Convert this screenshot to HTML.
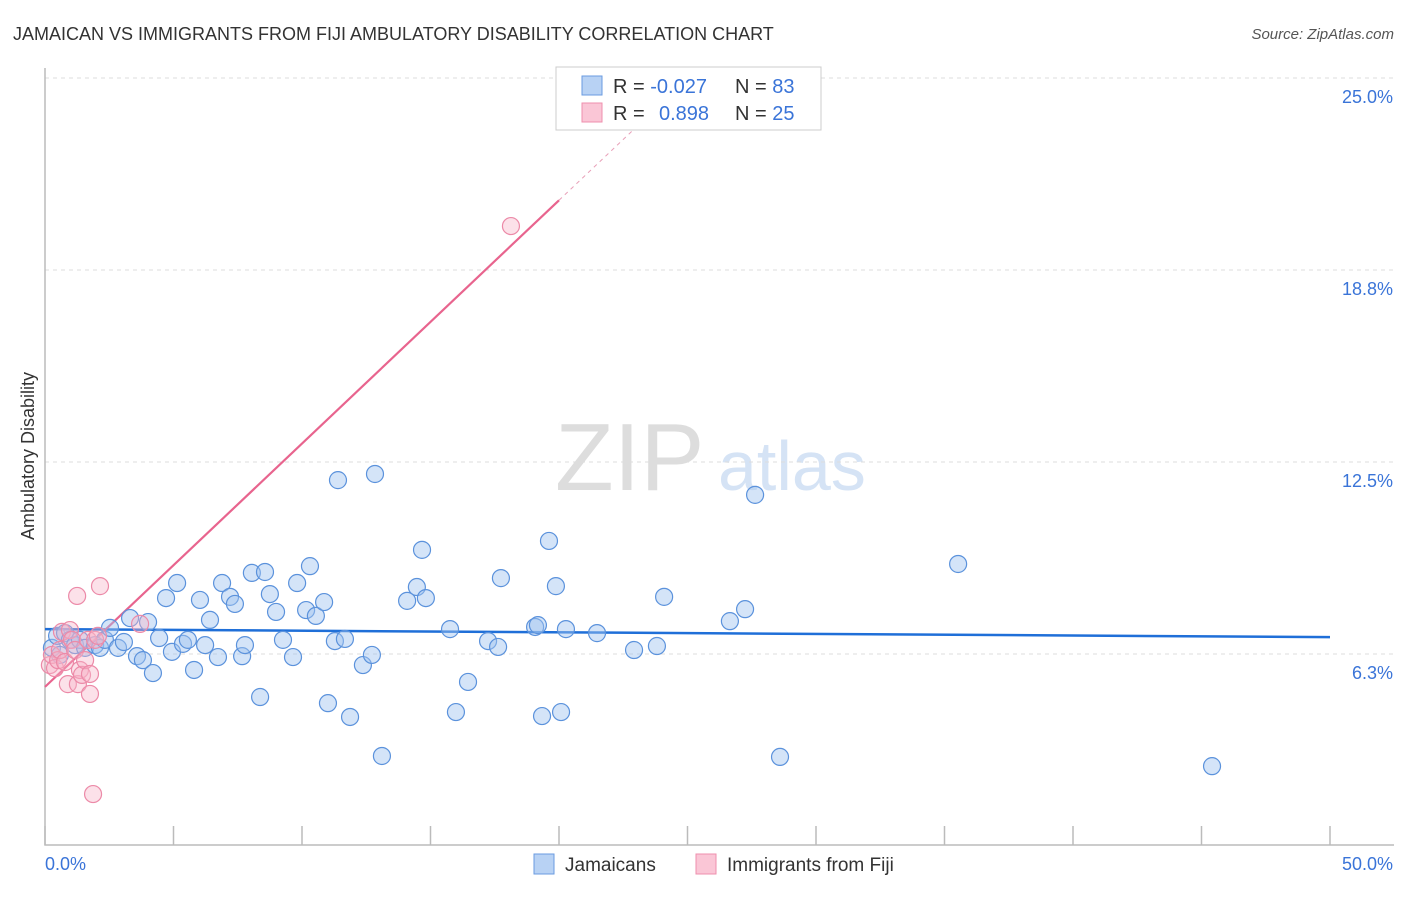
<!DOCTYPE html>
<html><head><meta charset="utf-8"><style>
body{margin:0;background:#fff;font-family:"Liberation Sans",sans-serif}
svg text{font-family:"Liberation Sans",sans-serif}
</style></head><body>
<svg id="chart" width="1406" height="892" xmlns="http://www.w3.org/2000/svg">
<text x="13" y="40" font-size="18" fill="#333">JAMAICAN VS IMMIGRANTS FROM FIJI AMBULATORY DISABILITY CORRELATION CHART</text>
<text x="1394" y="39" font-size="15" fill="#555" font-style="italic" text-anchor="end">Source: ZipAtlas.com</text>
<g>
<text x="555" y="490" font-size="96" fill="#ddd" font-family="Liberation Serif" >ZIP</text>
<text x="718" y="490" font-size="70" fill="#d5e3f5">atlas</text>
</g>
<text transform="translate(34,456) rotate(-90)" font-size="18" fill="#333" text-anchor="middle">Ambulatory Disability</text>
<g id="grid"></g><g id="axes"></g><g id="trends"></g><g id="points"></g>
<g>
<rect x="556" y="67" width="265" height="63" fill="#fff" stroke="#ccc"/>
<rect x="582" y="76" width="20" height="19" fill="#b8d2f4" stroke="#6a9be0"/>
<rect x="582" y="103" width="20" height="19" fill="#fac6d6" stroke="#ef8fad"/>
<text x="613" y="93" font-size="20" fill="#333">R = <tspan fill="#3a74d8">-0.027</tspan></text>
<text x="735" y="93" font-size="20" fill="#333">N = <tspan fill="#3a74d8">83</tspan></text>
<text x="613" y="120" font-size="20" fill="#333">R = <tspan fill="#3a74d8" x="659">0.898</tspan></text>
<text x="735" y="120" font-size="20" fill="#333">N = <tspan fill="#3a74d8">25</tspan></text>
</g>
<g>
<rect x="534" y="854" width="20" height="20" fill="#b8d2f4" stroke="#6a9be0"/>
<text x="565" y="871" font-size="19" fill="#333">Jamaicans</text>
<rect x="696" y="854" width="20" height="20" fill="#fac6d6" stroke="#ef8fad"/>
<text x="727" y="871" font-size="19" fill="#333">Immigrants from Fiji</text>
</g>
</svg>
<script>
const blueX=[0.27,0.47,0.58,0.78,0.97,1.17,1.36,1.56,1.95,2.14,2.33,2.53,2.84,3.07,3.31,3.58,3.81,4.01,4.20,4.44,4.71,4.94,5.14,5.37,5.56,5.80,6.03,6.23,6.42,6.73,6.89,7.20,7.39,7.67,7.78,8.05,8.37,8.56,8.75,8.99,9.26,9.65,9.81,10.16,10.31,10.54,10.86,11.01,11.28,11.40,11.67,11.87,12.37,12.72,12.84,13.11,14.09,14.47,14.67,14.82,15.76,15.99,16.46,17.24,17.63,17.74,19.07,19.18,19.34,19.61,19.88,20.08,20.27,21.48,22.92,23.81,24.09,26.65,27.24,27.63,28.60,35.53,45.41];
const blueY=[6.45,6.84,6.22,6.93,6.71,6.54,6.71,6.45,6.54,6.45,6.71,7.10,6.45,6.64,7.42,6.18,6.05,7.29,5.63,6.77,8.07,6.32,8.56,6.58,6.71,5.73,8.01,6.54,7.36,6.15,8.56,8.11,7.88,6.18,6.54,8.89,4.85,8.92,8.20,7.62,6.71,6.15,8.56,7.68,9.11,7.49,7.94,4.65,6.67,11.91,6.74,4.20,5.89,6.22,12.11,2.93,7.98,8.43,9.64,8.07,7.06,4.36,5.34,6.67,6.48,8.72,7.13,7.19,4.23,9.93,8.46,4.36,7.06,6.93,6.38,6.51,8.11,7.32,7.71,11.43,2.90,9.18,2.60];
const pinkX=[0.19,0.27,0.39,0.51,0.58,0.66,0.78,0.89,0.97,1.05,1.17,1.25,1.28,1.36,1.44,1.56,1.67,1.75,1.75,1.87,1.95,2.06,2.14,3.70,18.13];
const pinkY=[5.89,6.22,5.79,6.05,6.38,6.97,5.99,5.27,7.03,6.71,6.38,8.14,5.27,5.73,5.57,6.05,6.71,5.60,4.95,1.69,6.71,6.84,8.46,7.23,20.18];
const blueTrend=[7.06,6.80];
const pinkTrend={intercept:5.18,slope:0.792};
const yTicks=[6.25,12.5,18.75,25];
const yTickLabels=["6.3%","12.5%","18.8%","25.0%"];
const xTicks=[0,5,10,15,20,25,30,35,40,45,50];
const NS="http://www.w3.org/2000/svg";
const X=v=>45+v*25.7, Y=v=>846-v*30.72;
function mk(p,t,a){const e=document.createElementNS(NS,t);for(const k in a)e.setAttribute(k,a[k]);p.appendChild(e);return e;}
const grid=document.getElementById('grid'),axes=document.getElementById('axes');
yTicks.forEach((t,i)=>{
 const l=mk(grid,'line',{x1:45,x2:1394,y1:Y(t),y2:Y(t),stroke:'#ddd','stroke-dasharray':'4,4'});
 
 
 const tx=mk(axes,'text',{x:1393,y:Y(t)+25,'font-size':18,fill:'#3a74d8','text-anchor':'end'});
 tx.textContent=yTickLabels[i];
 
 
});
const ax=mk(axes,'path',{d:'M45,68V845H1394',fill:'none',stroke:'#bbb','stroke-width':1.5});


xTicks.forEach(t=>{
 const l=mk(axes,'line',{x1:X(t),x2:X(t),y1:826,y2:845,stroke:'#bbb','stroke-width':1.5});
 
 
});
const xl0=mk(axes,'text',{x:45,y:870,'font-size':18,fill:'#3a74d8'});xl0.textContent='0.0%';


const xl1=mk(axes,'text',{x:1393,y:870,'font-size':18,fill:'#3a74d8','text-anchor':'end'});xl1.textContent='50.0%';


const pts=document.getElementById('points');
blueX.forEach((x,i)=>{const c=mk(pts,'circle',{cx:X(x),cy:Y(blueY[i]),r:8.5,fill:'rgba(160,195,240,0.45)',stroke:'#5b92dc','stroke-width':1.2});
 
 });
pinkX.forEach((x,i)=>{const c=mk(pts,'circle',{cx:X(x),cy:Y(pinkY[i]),r:8.5,fill:'rgba(248,180,200,0.4)',stroke:'#ec8aa8','stroke-width':1.2});
 
 });
const tr=document.getElementById('trends');
const bt=mk(tr,'line',{x1:X(0),y1:Y(blueTrend[0]),x2:X(50),y2:Y(blueTrend[1]),stroke:'#1f6fd8','stroke-width':2.5});


const py=x=>pinkTrend.intercept+pinkTrend.slope*x;
const pt=mk(tr,'line',{x1:X(0),y1:Y(py(0)),x2:X(20),y2:Y(py(20)),stroke:'#e8648e','stroke-width':2.2});


const pd=mk(tr,'line',{x1:X(20),y1:Y(py(20)),x2:X(23.2),y2:Y(py(23.2)),stroke:'#e8a0b8','stroke-width':1,'stroke-dasharray':'4,4'});


</script>
</body></html>
